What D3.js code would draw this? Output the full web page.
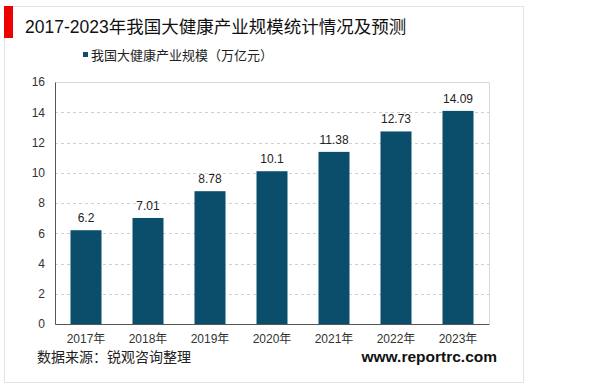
<!DOCTYPE html>
<html lang="zh">
<head>
<meta charset="UTF-8">
<title>大健康产业规模</title>
<script src="https://cdnjs.cloudflare.com/ajax/libs/d3/7.8.5/d3.min.js"></script>
<style>
  body { margin: 0; background: #fff; }
  text { font-family: "Liberation Sans", Arial, "Noto Sans CJK SC", sans-serif; }
</style>
</head>
<body>
<div id="chart"></div>
<script>
// data
const years = ["2017年", "2018年", "2019年", "2020年", "2021年", "2022年", "2023年"];
const values = [6.2, 7.01, 8.78, 10.1, 11.38, 12.73, 14.09];
const yTicks = [0, 2, 4, 6, 8, 10, 12, 14, 16];

const W = 600, H = 386;
const plot = { left: 55, right: 489, top: 82, bottom: 324 };
const barColor = "#0b4e6b";

const svg = d3.select("#chart").append("svg")
  .attr("width", W).attr("height", H);

// outer frame
svg.append("rect")
  .attr("x", 4.5).attr("y", 6.5).attr("width", 519).attr("height", 376)
  .attr("fill", "none").attr("stroke", "#e2e2e2");

// title marker + title
svg.append("rect").attr("x", 4).attr("y", 6).attr("width", 9).attr("height", 32).attr("fill", "#ee0000");
svg.append("text").attr("x", 25).attr("y", 33)
  .attr("font-size", 17.5).attr("fill", "#111")
  .text("2017-2023年我国大健康产业规模统计情况及预测");

// legend
svg.append("rect").attr("x", 83).attr("y", 52).attr("width", 5).attr("height", 5).attr("fill", barColor);
svg.append("text").attr("x", 91).attr("y", 59.5)
  .attr("font-size", 13).attr("fill", "#222")
  .text("我国大健康产业规模（万亿元）");

const x = d3.scaleBand().domain(years).range([plot.left, plot.right]).paddingInner(0.5).paddingOuter(0.25);
const y = d3.scaleLinear().domain([0, 16]).range([plot.bottom, plot.top]);

// plot box
svg.append("path")
  .attr("d", `M${plot.left},${plot.top + 0.5}H${plot.right + 0.5}V${plot.bottom}`)
  .attr("fill", "none").attr("stroke", "#d9d9d9");

// gridlines
svg.append("g").selectAll("line")
  .data(yTicks.filter(t => t > 0 && t < 16))
  .join("line")
  .attr("x1", plot.left).attr("x2", plot.right)
  .attr("y1", d => Math.round(y(d)) + 0.5).attr("y2", d => Math.round(y(d)) + 0.5)
  .attr("stroke", "#d0d0d0").attr("stroke-dasharray", "3,3");

// bars
svg.append("g").selectAll("rect")
  .data(values)
  .join("rect")
  .attr("x", (d, i) => x(years[i]))
  .attr("y", d => y(d))
  .attr("width", x.bandwidth())
  .attr("height", d => y(0) - y(d))
  .attr("fill", barColor);

// value labels
svg.append("g").selectAll("text")
  .data(values)
  .join("text")
  .attr("x", (d, i) => x(years[i]) + x.bandwidth() / 2)
  .attr("y", d => y(d) - 8)
  .attr("text-anchor", "middle")
  .attr("font-size", 12).attr("fill", "#222")
  .text(d => d);

// y axis
const yAxis = svg.append("g")
  .attr("transform", `translate(${plot.left},0)`)
  .call(d3.axisLeft(y).tickValues(yTicks).tickSize(0).tickPadding(10));
yAxis.select(".domain").attr("stroke", "#555");
yAxis.selectAll("text").attr("font-size", 12).attr("fill", "#333")
  .style("font-family", "'Liberation Sans', Arial, sans-serif");

// x axis
const xAxis = svg.append("g")
  .attr("transform", `translate(0,${plot.bottom})`)
  .call(d3.axisBottom(x).tickSize(0).tickPadding(10));
xAxis.select(".domain").attr("stroke", "#555");
xAxis.selectAll("text").attr("font-size", 12).attr("fill", "#333")
  .style("font-family", "'Liberation Sans', Arial, 'Noto Sans CJK SC', sans-serif");

// footer
svg.append("text").attr("x", 37).attr("y", 362)
  .attr("font-size", 14).attr("fill", "#222")
  .text("数据来源：锐观咨询整理");
svg.append("text").attr("x", 497).attr("y", 362)
  .attr("text-anchor", "end")
  .attr("font-size", 15.5).attr("font-weight", "bold").attr("fill", "#111")
  .text("www.reportrc.com");
</script>
</body>
</html>
